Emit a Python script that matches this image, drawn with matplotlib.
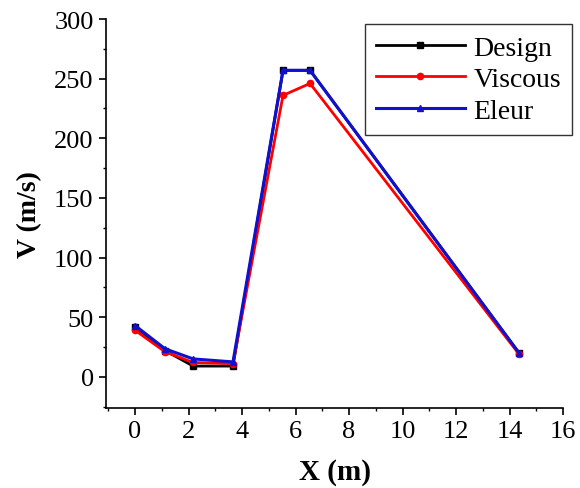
import matplotlib
matplotlib.use("Agg")
import matplotlib.pyplot as plt
from matplotlib.ticker import MultipleLocator

plt.rcParams['font.family'] = ['Liberation Serif', 'DejaVu Serif']

x = [0.0, 1.12, 2.17, 3.66, 5.53, 6.54, 14.35]
design = [42, 22, 9, 9, 257, 257, 20]
viscous = [39, 21, 12, 11, 236, 246, 19]
eleur = [43, 23.5, 15, 12.5, 257, 257, 20]

fig = plt.figure(figsize=(5.8, 4.89), dpi=100)
ax = fig.add_axes([0.183, 0.164, 0.788, 0.795])

ax.plot(x, design, color='black', marker='s', ms=4, lw=2, label='Design')
ax.plot(x, viscous, color='red', marker='o', ms=4.5, lw=2, label='Viscous')
ax.plot(x, eleur, color='#1010d0', marker='^', ms=5, lw=2.2, label='Eleur')

ax.set_xlim(-1.08, 16)
ax.set_ylim(-26, 300)
ax.xaxis.set_major_locator(MultipleLocator(2))
ax.xaxis.set_minor_locator(MultipleLocator(1))
ax.yaxis.set_major_locator(MultipleLocator(50))
ax.yaxis.set_minor_locator(MultipleLocator(25))
ax.spines['top'].set_visible(False)
ax.spines['right'].set_visible(False)
for s in ('left', 'bottom'):
    ax.spines[s].set_linewidth(1.2)
ax.tick_params(which='major', direction='out', length=5, width=1.2,
               labelsize=19, pad=4)
ax.tick_params(which='minor', direction='out', length=2.5, width=1)

ax.set_xlabel('X (m)', fontsize=21, fontweight='bold', labelpad=11)
ax.set_ylabel('V (m/s)', fontsize=20, fontweight='bold', labelpad=9)

leg = ax.legend(loc='upper right', bbox_to_anchor=(572 / 580, 1 - 25 / 489),
                bbox_transform=fig.transFigure, borderaxespad=0,
                fontsize=20, frameon=True, fancybox=False, edgecolor='black',
                handlelength=3.2, handletextpad=0.3, borderpad=0.4,
                labelspacing=0.22)
leg.get_frame().set_linewidth(1.0)

fig.savefig('out.png', dpi=100)
